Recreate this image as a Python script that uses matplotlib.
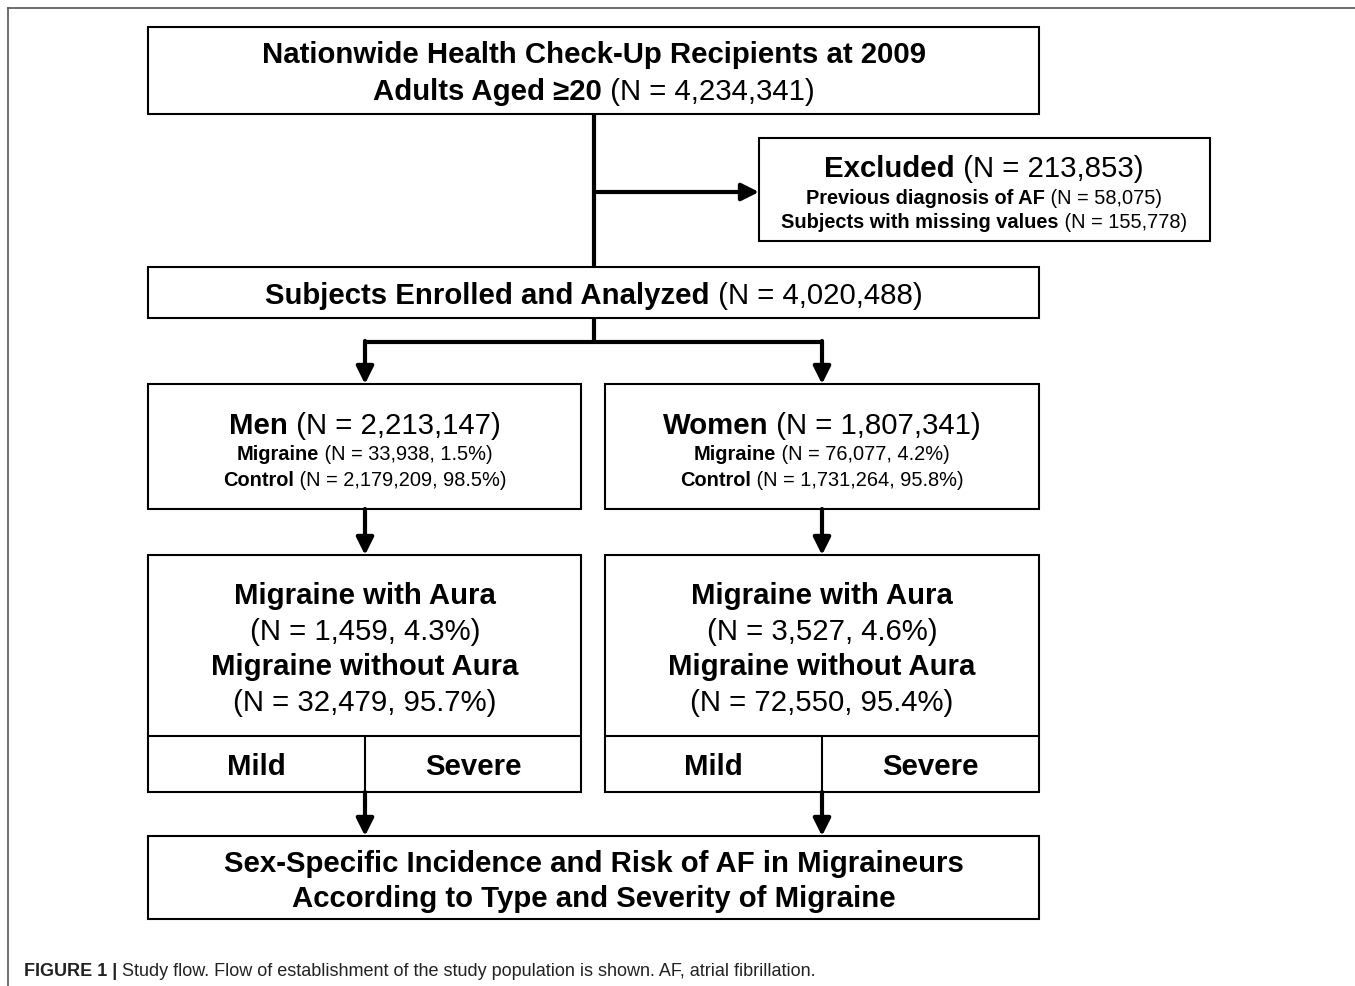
import matplotlib.pyplot as plt
from matplotlib.patches import Rectangle

# ---- data ----
total_n = "4,234,341"
excluded_n = "213,853"
prev_af_n = "58,075"
missing_n = "155,778"
enrolled_n = "4,020,488"
sex_labels = ["Men", "Women"]
sex_n = ["2,213,147", "1,807,341"]
migraine_n = ["33,938, 1.5%", "76,077, 4.2%"]
control_n = ["2,179,209, 98.5%", "1,731,264, 95.8%"]
aura_n = ["1,459, 4.3%", "3,527, 4.6%"]
no_aura_n = ["32,479, 95.7%", "72,550, 95.4%"]
severity = ["Mild", "Severe"]

W, H = 1355, 986
fig = plt.figure(figsize=(W / 100, H / 100), dpi=100)
ax = fig.add_axes([0, 0, 1, 1])
ax.set_xlim(0, W)
ax.set_ylim(H, 0)
ax.axis("off")

FONT = ["Liberation Sans", "DejaVu Sans"]
BIG = 21.2
SMALL = 14.4
DY = 2  # small nudge so text sits at the visual centre


def box(x0, y0, x1, y1):
    ax.add_patch(Rectangle((x0, y0), x1 - x0, y1 - y0, fill=False, lw=1.5, ec="black"))


def line(xs, ys, lw=3):
    ax.plot(xs, ys, color="black", lw=lw, solid_capstyle="butt", solid_joinstyle="miter")


def arrow(x0, y0, x1, y1):
    ax.annotate("", xy=(x1, y1), xytext=(x0, y0),
                arrowprops=dict(arrowstyle="-|>,head_length=0.8,head_width=0.4", lw=3,
                                color="black", shrinkA=0, shrinkB=0, mutation_scale=13))


def mixed(cx, y, parts, size, family=FONT, color="black", ha="center"):
    r = fig.canvas.get_renderer()
    objs = []
    widths = []
    for s, w in parts:
        t = ax.text(0, y + DY, s, fontsize=size, fontweight=w, family=family,
                    ha="left", va="center", color=color)
        bb = t.get_window_extent(renderer=r)
        objs.append(t)
        widths.append(bb.width)
    total = sum(widths)
    x = cx - total / 2 if ha == "center" else cx
    for t, w in zip(objs, widths):
        t.set_x(x)
        x += w


# frame
ax.plot([8, 8], [986, 8], color="#555555", lw=1.2)
ax.plot([8, 1355], [8, 8], color="#555555", lw=1.2)

# top box
box(148, 27, 1039, 114)
mixed(594, 53, [("Nationwide Health Check-Up Recipients at 2009", "bold")], BIG)
mixed(594, 90, [("Adults Aged \u226520", "bold"), (" (N = " + total_n + ")", "normal")], BIG)

# trunk and excluded
line([594, 594], [114, 267])
arrow(594, 192, 759, 192)
box(759, 138, 1210, 241)
mixed(984, 167, [("Excluded", "bold"), (" (N = " + excluded_n + ")", "normal")], BIG)
mixed(984, 196, [("Previous diagnosis of AF", "bold"), (" (N = " + prev_af_n + ")", "normal")], SMALL)
mixed(984, 220, [("Subjects with missing values", "bold"), (" (N = " + missing_n + ")", "normal")], SMALL)

# enrolled
box(148, 267, 1039, 318)
mixed(594, 294, [("Subjects Enrolled and Analyzed", "bold"), (" (N = " + enrolled_n + ")", "normal")], BIG)

line([594, 594], [318, 342])
line([363.5, 823.5], [342, 342])

cols = [(148, 581, 365), (605, 1039, 822)]
for i, (x0, x1, cx) in enumerate(cols):
    arrow(cx, 341, cx, 384)
    box(x0, 384, x1, 509)
    mixed(cx, 424, [(sex_labels[i], "bold"), (" (N = " + sex_n[i] + ")", "normal")], BIG)
    mixed(cx, 453, [("Migraine", "bold"), (" (N = " + migraine_n[i] + ")", "normal")], SMALL)
    mixed(cx, 478, [("Control", "bold"), (" (N = " + control_n[i] + ")", "normal")], SMALL)

    arrow(cx, 509, cx, 555)
    box(x0, 555, x1, 792)
    line([x0, x1], [736, 736], lw=1.5)
    line([cx, cx], [736, 792], lw=1.5)
    mixed(cx, 594, [("Migraine with Aura", "bold")], BIG)
    mixed(cx, 630, [("(N = " + aura_n[i] + ")", "normal")], BIG)
    mixed(cx, 665, [("Migraine without Aura", "bold")], BIG)
    mixed(cx, 701, [("(N = " + no_aura_n[i] + ")", "normal")], BIG)
    mixed((x0 + cx) / 2, 765, [(severity[0], "bold")], BIG)
    mixed((cx + x1) / 2, 765, [(severity[1], "bold")], BIG)

    arrow(cx, 792, cx, 836)

box(148, 836, 1039, 919)
mixed(594, 862, [("Sex-Specific Incidence and Risk of AF in Migraineurs", "bold")], BIG)
mixed(594, 897, [("According to Type and Severity of Migraine", "bold")], BIG)

# caption
mixed(24, 969, [("FIGURE 1 |", "bold"),
                (" Study flow. Flow of establishment of the study population is shown. AF, atrial fibrillation.", "normal")],
      13, color="#222222", ha="left")

fig.savefig("out.png", dpi=100)
